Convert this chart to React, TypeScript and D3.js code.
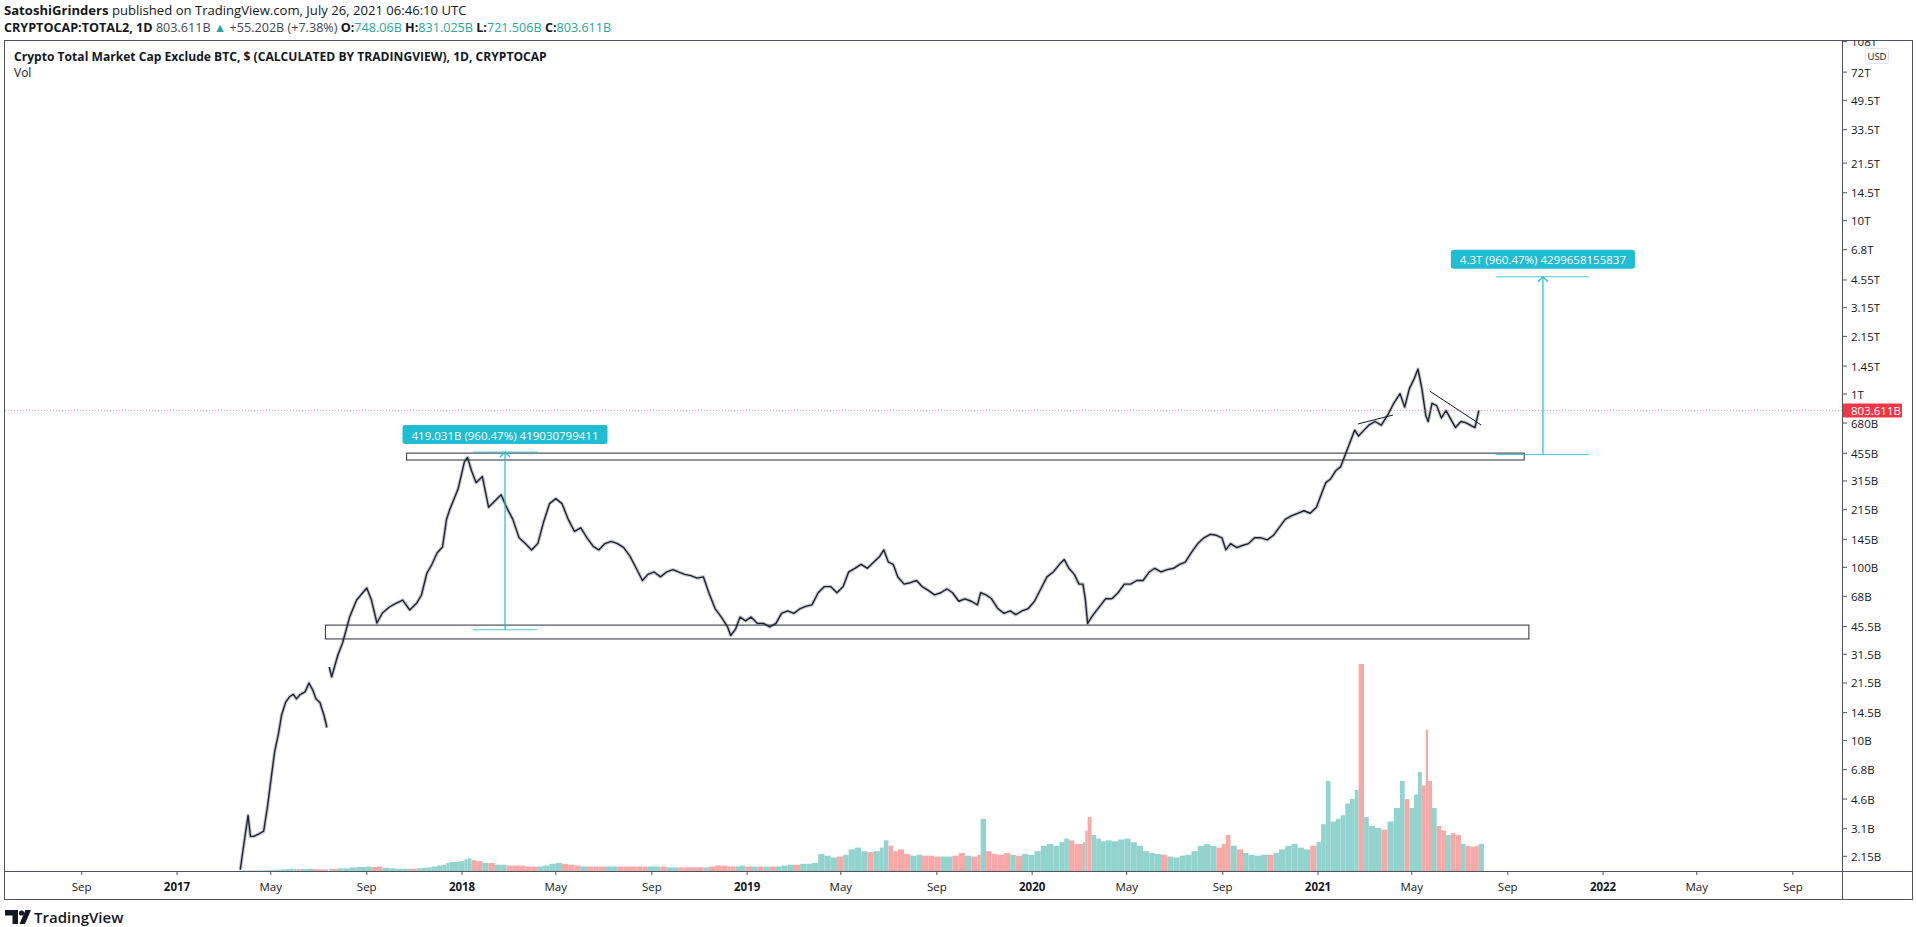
import React, { useRef, useEffect } from 'react';
import * as d3 from 'd3';

// [date, close (billions USD), volume (billions USD)]
type Row = [string, number | null, number];

const priceRows: Row[] = [
  ['2017-03-23', 1.8, 0.5], ['2017-03-28', 2.6, 0.5], ['2017-04-02', 3.7, 0.6], ['2017-04-05', 2.8, 0.6],
  ['2017-04-09', 2.8, 0.6], ['2017-04-16', 2.9, 0.7], ['2017-04-22', 3.0, 0.7], ['2017-04-27', 4.2, 0.8],
  ['2017-05-01', 5.8, 1.0], ['2017-05-06', 8.6, 1.2], ['2017-05-11', 11.0, 1.5], ['2017-05-15', 14.1, 1.8],
  ['2017-05-20', 16.6, 2.2], ['2017-05-25', 17.9, 2.5], ['2017-05-30', 18.5, 2.2], ['2017-06-03', 17.4, 2.0],
  ['2017-06-08', 18.5, 2.2], ['2017-06-14', 19.1, 2.4], ['2017-06-19', 21.5, 2.6], ['2017-06-24', 19.5, 2.2],
  ['2017-06-28', 17.4, 2.0], ['2017-07-03', 16.6, 1.8], ['2017-07-08', 14.1, 1.8], ['2017-07-12', 11.9, 2.0],
  ['2017-07-13', null, 0],
  ['2017-07-15', 26.6, 2.5], ['2017-07-18', 23.3, 2.5], ['2017-07-26', 31.2, 3.0], ['2017-08-01', 36.6, 3.0],
  ['2017-08-10', 51.6, 4.0], ['2017-08-19', 64.7, 4.5], ['2017-09-01', 76.0, 5.0], ['2017-09-07', 64.7, 4.5],
  ['2017-09-14', 47.7, 5.0], ['2017-09-21', 54.5, 3.5], ['2017-09-30', 59.0, 3.0], ['2017-10-09', 62.2, 2.5],
  ['2017-10-17', 64.7, 2.5], ['2017-10-26', 56.7, 2.5], ['2017-11-04', 62.2, 3.0], ['2017-11-10', 69.2, 3.5],
  ['2017-11-17', 92.7, 4.0], ['2017-11-23', 103, 5.0], ['2017-11-30', 121, 6.0], ['2017-12-07', 131, 7.0],
  ['2017-12-12', 188, 9.0], ['2017-12-16', 214, 10], ['2017-12-27', 284, 11], ['2018-01-04', 406, 13],
  ['2018-01-08', 430, 14], ['2018-01-13', 362, 12], ['2018-01-19', 308, 11], ['2018-01-27', 334, 9],
  ['2018-02-04', 222, 9], ['2018-02-12', 241, 7], ['2018-02-20', 262, 7], ['2018-02-27', 222, 6],
  ['2018-03-07', 189, 6], ['2018-03-15', 148, 6], ['2018-03-23', 137, 5], ['2018-03-31', 126, 5],
  ['2018-04-08', 137, 5], ['2018-04-15', 180, 6], ['2018-04-23', 233, 8], ['2018-05-01', 249, 9],
  ['2018-05-09', 233, 8], ['2018-05-17', 189, 7], ['2018-05-25', 161, 6], ['2018-06-02', 169, 5],
  ['2018-06-10', 148, 5], ['2018-06-18', 132, 5], ['2018-06-25', 126, 5], ['2018-07-03', 137, 5],
  ['2018-07-11', 141, 5], ['2018-07-19', 137, 5], ['2018-07-27', 130, 5], ['2018-08-04', 116, 5],
  ['2018-08-12', 98.7, 5], ['2018-08-20', 83.9, 5], ['2018-08-27', 91.0, 5], ['2018-09-04', 94, 5],
  ['2018-09-12', 88.1, 5], ['2018-09-20', 94, 4], ['2018-09-28', 97, 4], ['2018-10-05', 94, 4],
  ['2018-10-13', 91, 4], ['2018-10-21', 89.5, 4], ['2018-10-29', 86.6, 4], ['2018-11-06', 88.1, 4],
  ['2018-11-13', 71.3, 5], ['2018-11-21', 57.8, 6], ['2018-11-29', 51.6, 6], ['2018-12-07', 45.3, 5],
  ['2018-12-11', 40.4, 5], ['2018-12-17', 43.8, 5], ['2018-12-23', 51.6, 6], ['2018-12-30', 49.1, 5],
  ['2019-01-06', 51.6, 5], ['2019-01-14', 47.5, 5], ['2019-01-22', 47.5, 5], ['2019-01-30', 45.3, 5],
  ['2019-02-07', 47.5, 5], ['2019-02-14', 54.2, 6], ['2019-02-22', 56.0, 7], ['2019-03-02', 54.2, 7],
  ['2019-03-10', 57.8, 8], ['2019-03-18', 59.7, 8], ['2019-03-25', 60.7, 9], ['2019-04-02', 71.3, 19],
  ['2019-04-10', 77.4, 17], ['2019-04-18', 77.4, 15], ['2019-04-26', 71.3, 16], ['2019-05-04', 77.4, 18],
  ['2019-05-11', 94, 24], ['2019-05-19', 98.7, 26], ['2019-05-27', 104, 22], ['2019-06-04', 98.7, 21],
  ['2019-06-12', 107, 22], ['2019-06-20', 116, 26], ['2019-06-25', 126, 34], ['2019-07-01', 107, 28],
  ['2019-07-07', 104, 22], ['2019-07-13', 88, 24], ['2019-07-21', 80, 19], ['2019-07-29', 81.5, 17],
  ['2019-08-06', 83.9, 18], ['2019-08-13', 77.4, 17], ['2019-08-21', 73.6, 17], ['2019-08-29', 69.3, 16],
  ['2019-09-06', 71.3, 16], ['2019-09-14', 75, 16], ['2019-09-21', 71.3, 17], ['2019-09-29', 63.7, 20],
  ['2019-10-07', 65.8, 17], ['2019-10-15', 63.7, 16], ['2019-10-23', 60.7, 18], ['2019-10-27', 71.3, 58],
  ['2019-11-03', 69.3, 22], ['2019-11-10', 65.8, 19], ['2019-11-18', 57.8, 18], ['2019-11-26', 54.2, 20],
  ['2019-12-04', 56.0, 18], ['2019-12-11', 53.3, 17], ['2019-12-19', 56, 19], ['2019-12-27', 57.8, 18],
  ['2020-01-04', 63.7, 22], ['2020-01-12', 75, 28], ['2020-01-20', 88, 30], ['2020-01-28', 94, 28],
  ['2020-02-05', 104, 32], ['2020-02-11', 111, 36], ['2020-02-17', 98.7, 34], ['2020-02-24', 91, 30],
  ['2020-03-01', 80, 30], ['2020-03-06', 80, 32], ['2020-03-09', 65.8, 45], ['2020-03-12', 47.5, 60],
  ['2020-03-17', 51.6, 40], ['2020-03-23', 56, 36], ['2020-03-29', 60.7, 33], ['2020-04-04', 65.8, 34],
  ['2020-04-12', 65.8, 33], ['2020-04-20', 71.3, 35], ['2020-04-28', 80, 36], ['2020-05-06', 80, 32],
  ['2020-05-14', 83.9, 28], ['2020-05-22', 83.9, 22], ['2020-05-30', 94, 20], ['2020-06-06', 98.7, 19],
  ['2020-06-14', 94, 18], ['2020-06-22', 97, 16], ['2020-06-30', 98.7, 15], ['2020-07-08', 104, 17],
  ['2020-07-15', 107, 18], ['2020-07-23', 122, 22], ['2020-07-31', 137, 28], ['2020-08-08', 148, 30],
  ['2020-08-16', 155, 28], ['2020-08-24', 153, 26], ['2020-08-31', 148, 30], ['2020-09-05', 126, 40],
  ['2020-09-11', 137, 28], ['2020-09-19', 130, 24], ['2020-09-27', 134, 20], ['2020-10-04', 137, 18],
  ['2020-10-12', 148, 17], ['2020-10-20', 148, 18], ['2020-10-28', 144, 18], ['2020-11-05', 153, 20],
  ['2020-11-12', 169, 24], ['2020-11-20', 189, 28], ['2020-11-28', 198, 30], ['2020-12-06', 205, 26],
  ['2020-12-14', 212, 24], ['2020-12-22', 205, 28], ['2020-12-30', 222, 32],
  ['2021-01-05', 262, 52], ['2021-01-11', 308, 100], ['2021-01-17', 323, 55], ['2021-01-24', 362, 58],
  ['2021-01-30', 380, 62], ['2021-02-05', 447, 75], ['2021-02-11', 526, 80], ['2021-02-17', 619, 90],
  ['2021-02-22', 572, 230], ['2021-03-01', 619, 60], ['2021-03-07', 661, 50], ['2021-03-15', 694, 48],
  ['2021-03-23', 661, 46], ['2021-03-31', 752, 55], ['2021-04-08', 884, 70], ['2021-04-16', 1005, 100],
  ['2021-04-22', 840, 80], ['2021-04-28', 1074, 70], ['2021-05-04', 1222, 85], ['2021-05-09', 1392, 110],
  ['2021-05-14', 1074, 95], ['2021-05-19', 752, 157], ['2021-05-22', 694, 100], ['2021-05-27', 884, 70],
  ['2021-06-02', 856, 50], ['2021-06-08', 727, 45], ['2021-06-14', 802, 40], ['2021-06-20', 716, 42],
  ['2021-06-26', 640, 40], ['2021-07-03', 694, 30], ['2021-07-09', 683, 28], ['2021-07-15', 661, 27],
  ['2021-07-21', 640, 28], ['2021-07-26', 803.611, 30],
];

const lastPrice = 803.611;

// right axis (values in billions)
const yTicks: [number, string][] = [
  [108000, '108T'], [72000, '72T'], [49500, '49.5T'], [33500, '33.5T'], [21500, '21.5T'],
  [14500, '14.5T'], [10000, '10T'], [6800, '6.8T'], [4550, '4.55T'], [3150, '3.15T'],
  [2150, '2.15T'], [1450, '1.45T'], [1000, '1T'], [680, '680B'], [455, '455B'], [315, '315B'],
  [215, '215B'], [145, '145B'], [100, '100B'], [68, '68B'], [45.5, '45.5B'], [31.5, '31.5B'],
  [21.5, '21.5B'], [14.5, '14.5B'], [10, '10B'], [6.8, '6.8B'], [4.6, '4.6B'], [3.1, '3.1B'],
  [2.15, '2.15B'],
];

const timeTicks: [string, string, boolean][] = [
  ['2016-09-01', 'Sep', false], ['2017-01-01', '2017', true], ['2017-05-01', 'May', false],
  ['2017-09-01', 'Sep', false], ['2018-01-01', '2018', true], ['2018-05-01', 'May', false],
  ['2018-09-01', 'Sep', false], ['2019-01-01', '2019', true], ['2019-05-01', 'May', false],
  ['2019-09-01', 'Sep', false], ['2020-01-01', '2020', true], ['2020-05-01', 'May', false],
  ['2020-09-01', 'Sep', false], ['2021-01-01', '2021', true], ['2021-05-01', 'May', false],
  ['2021-09-01', 'Sep', false], ['2022-01-01', '2022', true], ['2022-05-01', 'May', false],
  ['2022-09-01', 'Sep', false],
];

// drawn rectangles: dates and price bounds (billions)
const zones = [
  { start: '2017-10-22', end: '2021-09-22', top: 456, bottom: 416 },
  { start: '2017-07-10', end: '2021-09-28', top: 46.4, bottom: 38.6 },
];

const measures = [
  { date: '2018-02-25', from: 43.63, to: 462.66, spanStart: '2018-01-15', spanEnd: '2018-04-08', label: '419.031B (960.47%) 419030799411' },
  { date: '2021-10-16', from: 447.66, to: 4747.3, spanStart: '2021-08-17', spanEnd: '2021-12-14', label: '4.3T (960.47%) 4299658155837' },
];

const trendLines: [string, number, string, number][] = [
  ['2021-02-21', 671, '2021-04-07', 756],
  ['2021-05-24', 1040, '2021-07-29', 662],
];

const W = 1916;
const H = 927;
const plot = { left: 5, top: 40, right: 1842, bottom: 871 };
const frame = { left: 4.5, top: 40.5, right: 1912.5, bottom: 899.5 };
const FONT = '"Open Sans", "Noto Sans", sans-serif';
const DARK = '#131722';
const TEAL = '#26a69a';
const CYAN = '#1fbcd2';

const App: React.FC = () => {
  const svgRef = useRef<SVGSVGElement>(null);

  useEffect(() => {
    if (!svgRef.current) return;
    const svg = d3.select(svgRef.current);
    svg.selectAll('*').remove();

    const parse = d3.utcParse('%Y-%m-%d');
    const d = (s: string) => parse(s) as Date;

    const x = d3.scaleUtc().domain([d('2017-01-01'), d('2021-01-01')]).range([177, 1318]);
    const y = d3.scaleLog().domain([1, 1000]).range([913.9, 394]);
    const vol = d3.scaleLinear().domain([0, 250]).range([plot.bottom, plot.bottom - 225]);

    svg.append('rect').attr('width', W).attr('height', H).attr('fill', '#ffffff');

    const defs = svg.append('defs');
    defs.append('clipPath').attr('id', 'plotClip').append('rect')
      .attr('x', plot.left).attr('y', plot.top)
      .attr('width', plot.right - plot.left).attr('height', plot.bottom - plot.top);
    defs.append('clipPath').attr('id', 'axisClip').append('rect')
      .attr('x', plot.right).attr('y', frame.top)
      .attr('width', frame.right - plot.right).attr('height', plot.bottom - frame.top);

    const g = svg.append('g').attr('clip-path', 'url(#plotClip)');

    // volume
    const rows = priceRows;
    let prevClose: number | null = null;
    rows.forEach((r, i) => {
      const close = r[1];
      if (close == null) return;
      const x0 = x(d(r[0]));
      const next = rows[i + 1];
      const x1 = next ? x(d(next[0])) : x0 + 5;
      const up = prevClose == null ? true : close >= prevClose;
      prevClose = close;
      g.append('rect')
        .attr('x', x0)
        .attr('y', vol(r[2]))
        .attr('width', Math.max(1, x1 - x0))
        .attr('height', plot.bottom - vol(r[2]))
        .attr('fill', up ? '#93d3cd' : '#f7a9a8');
    });

    // price
    const line = d3.line<Row>()
      .defined(r => r[1] != null)
      .x(r => x(d(r[0])))
      .y(r => y(r[1] as number));

    g.append('path').datum(rows).attr('d', line)
      .attr('fill', 'none').attr('stroke', '#9598a1').attr('stroke-width', 3.6)
      .attr('stroke-opacity', 0.5).attr('stroke-linejoin', 'round');
    g.append('path').datum(rows).attr('d', line)
      .attr('fill', 'none').attr('stroke', '#1e222d').attr('stroke-width', 1.4)
      .attr('stroke-linejoin', 'round');

    // last price line
    g.append('line')
      .attr('x1', plot.left).attr('x2', plot.right)
      .attr('y1', y(lastPrice)).attr('y2', y(lastPrice))
      .attr('stroke', '#f7525f').attr('stroke-opacity', 0.6)
      .attr('stroke-dasharray', '1,2');

    // zones
    zones.forEach(z => {
      g.append('rect')
        .attr('x', x(d(z.start)))
        .attr('y', y(z.top))
        .attr('width', x(d(z.end)) - x(d(z.start)))
        .attr('height', y(z.bottom) - y(z.top))
        .attr('fill', 'none').attr('stroke', '#2a2e39').attr('stroke-width', 1);
    });

    // trend lines
    trendLines.forEach(t => {
      g.append('line')
        .attr('x1', x(d(t[0]))).attr('y1', y(t[1]))
        .attr('x2', x(d(t[2]))).attr('y2', y(t[3]))
        .attr('stroke', DARK).attr('stroke-width', 1);
    });

    // price range measures
    measures.forEach(m => {
      const mx = x(d(m.date));
      const yTop = y(m.to);
      const yBot = y(m.from);
      [yTop, yBot].forEach(yy => {
        g.append('line')
          .attr('x1', x(d(m.spanStart))).attr('x2', x(d(m.spanEnd)))
          .attr('y1', yy).attr('y2', yy)
          .attr('stroke', CYAN).attr('stroke-opacity', 0.8).attr('stroke-width', 1.2);
      });
      g.append('line')
        .attr('x1', mx).attr('x2', mx).attr('y1', yTop).attr('y2', yBot)
        .attr('stroke', CYAN).attr('stroke-width', 1.2);
      g.append('path')
        .attr('d', `M${mx - 5},${yTop + 5}L${mx},${yTop}L${mx + 5},${yTop + 5}`)
        .attr('fill', 'none').attr('stroke', CYAN).attr('stroke-width', 1.2);

      const lbl = g.append('g');
      const txt = lbl.append('text')
        .attr('x', mx).attr('y', yTop - 17)
        .attr('text-anchor', 'middle').attr('dominant-baseline', 'central')
        .attr('font-family', FONT).attr('font-size', 11.5).attr('fill', '#ffffff')
        .text(m.label);
      const tw = (txt.node() as SVGTextElement).getComputedTextLength();
      lbl.insert('rect', 'text')
        .attr('x', mx - tw / 2 - 9).attr('y', yTop - 27)
        .attr('width', tw + 18).attr('height', 19)
        .attr('rx', 3).attr('fill', CYAN);
    });

    // frame and separators
    svg.append('rect')
      .attr('x', frame.left).attr('y', frame.top)
      .attr('width', frame.right - frame.left).attr('height', frame.bottom - frame.top)
      .attr('fill', 'none').attr('stroke', '#50535e').attr('stroke-width', 1);
    svg.append('line')
      .attr('x1', plot.right + 0.5).attr('x2', plot.right + 0.5)
      .attr('y1', frame.top).attr('y2', frame.bottom)
      .attr('stroke', '#50535e');
    svg.append('line')
      .attr('x1', frame.left).attr('x2', frame.right)
      .attr('y1', plot.bottom + 0.5).attr('y2', plot.bottom + 0.5)
      .attr('stroke', '#50535e');

    // right axis
    const ax = svg.append('g').attr('clip-path', 'url(#axisClip)');
    yTicks.forEach(([v, label]) => {
      const yy = y(v);
      ax.append('line')
        .attr('x1', plot.right).attr('x2', plot.right + 5)
        .attr('y1', yy).attr('y2', yy)
        .attr('stroke', '#50535e');
      ax.append('text')
        .attr('x', plot.right + 9).attr('y', yy)
        .attr('dominant-baseline', 'central')
        .attr('font-family', FONT).attr('font-size', 11.5).attr('fill', DARK)
        .text(label);
    });
    const ly = y(lastPrice);
    ax.append('rect')
      .attr('x', plot.right + 1).attr('y', ly - 7)
      .attr('width', 59).attr('height', 14).attr('rx', 1)
      .attr('fill', '#f23645');
    ax.append('text')
      .attr('x', plot.right + 9).attr('y', ly)
      .attr('dominant-baseline', 'central')
      .attr('font-family', FONT).attr('font-size', 11.5).attr('fill', '#ffffff')
      .text(lastPrice.toFixed(3) + 'B');

    // USD badge
    svg.append('rect')
      .attr('x', 1865.5).attr('y', 48.5).attr('width', 23).attr('height', 15).attr('rx', 2)
      .attr('fill', '#ffffff').attr('stroke', '#e0e3eb');
    svg.append('text')
      .attr('x', 1877).attr('y', 56).attr('text-anchor', 'middle').attr('dominant-baseline', 'central')
      .attr('font-family', FONT).attr('font-size', 9.5).attr('fill', DARK).text('USD');

    // time axis
    timeTicks.forEach(([ds, label, bold]) => {
      const xx = x(d(ds));
      svg.append('line')
        .attr('x1', xx).attr('x2', xx)
        .attr('y1', plot.bottom).attr('y2', plot.bottom + 4)
        .attr('stroke', '#50535e');
      svg.append('text')
        .attr('x', xx).attr('y', 886)
        .attr('text-anchor', 'middle').attr('dominant-baseline', 'central')
        .attr('font-family', FONT).attr('font-size', 11.5)
        .attr('font-weight', bold ? 700 : 400).attr('fill', DARK)
        .text(label);
    });

    // header
    const h1 = svg.append('text').attr('x', 4).attr('y', 15)
      .attr('font-family', FONT).attr('font-size', 13.1).attr('fill', DARK);
    h1.append('tspan').attr('font-weight', 700).text('SatoshiGrinders');
    h1.append('tspan').text(' published on TradingView.com, July 26, 2021 06:46:10 UTC');

    const h2 = svg.append('text').attr('x', 4).attr('y', 32)
      .attr('font-family', FONT).attr('font-size', 12.6).attr('fill', DARK);
    h2.append('tspan').attr('font-weight', 700).text('CRYPTOCAP:TOTAL2, 1D');
    h2.append('tspan').attr('fill', '#434651').text(' 803.611B ');
    h2.append('tspan').attr('fill', TEAL).text('▲');
    h2.append('tspan').attr('fill', '#434651').text(' +55.202B (+7.38%) ');
    const ohlc: [string, string][] = [['O:', '748.06B'], ['H:', '831.025B'], ['L:', '721.506B'], ['C:', '803.611B']];
    ohlc.forEach(([k, v], i) => {
      h2.append('tspan').attr('font-weight', 700).text((i ? ' ' : '') + k);
      h2.append('tspan').attr('fill', TEAL).text(v);
    });

    svg.append('text').attr('x', 14).attr('y', 60.5)
      .attr('font-family', FONT).attr('font-size', 12.1).attr('font-weight', 700).attr('fill', DARK)
      .text('Crypto Total Market Cap Exclude BTC, $ (CALCULATED BY TRADINGVIEW), 1D, CRYPTOCAP');
    svg.append('text').attr('x', 14).attr('y', 77)
      .attr('font-family', FONT).attr('font-size', 12).attr('fill', DARK)
      .text('Vol');

    // TradingView logo
    const logo = svg.append('g').attr('fill', DARK);
    logo.append('path').attr('d', 'M5,910h13v14h-5.5v-8.5H5z');
    logo.append('circle').attr('cx', 21.5).attr('cy', 913).attr('r', 2.6);
    logo.append('path').attr('d', 'M25.5,910h5.5l-6,14h-5.5z');
    logo.append('text').attr('x', 34).attr('y', 923)
      .attr('font-family', FONT).attr('font-size', 15).attr('font-weight', 600)
      .text('TradingView');
  }, []);

  return (
    <svg
      ref={svgRef}
      width={W}
      height={H}
      style={{ position: 'absolute', left: 0, top: 0, display: 'block' }}
    />
  );
};

export default App;
